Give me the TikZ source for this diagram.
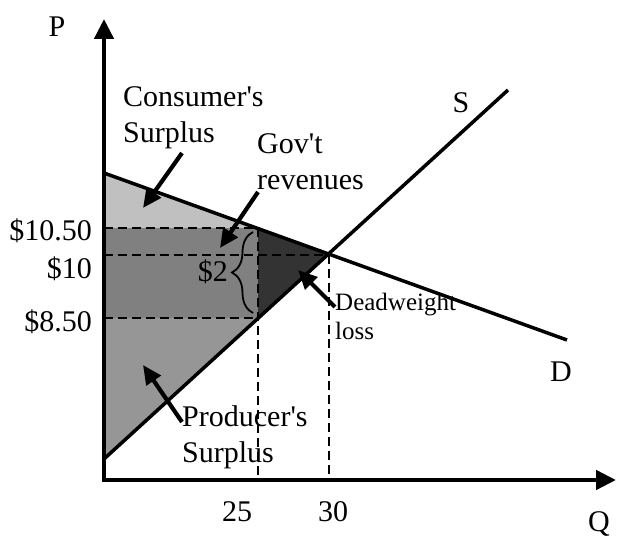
\documentclass[tikz,border=0pt]{standalone}
\usepackage{fontspec}
\setmainfont{Liberation Serif}
\usetikzlibrary{arrows.meta, decorations.pathreplacing}
\definecolor{csgray}{HTML}{C0C0C0}
\definecolor{govgray}{HTML}{808080}
\definecolor{psgray}{HTML}{969696}
\definecolor{dwlgray}{HTML}{333333}
\tikzset{
  bigtip/.tip={Triangle[length=20pt,width=19pt]},
  axis/.style={line width=4.5pt, bigtip-bigtip},
  curve/.style={line width=3.5pt},
  guide/.style={line width=2.8pt, dash pattern=on 9pt off 5pt},
  arrow/.style={line width=4.2pt, -{Triangle[length=19pt,width=17pt]}},
  lbl/.style={inner sep=0pt, font=\fontsize{30}{36}\selectfont},
  small/.style={inner sep=0pt, font=\fontsize{25}{29}\selectfont},
}

\begin{document}
\begin{tikzpicture}[x=1pt, y=1pt]
\useasboundingbox (0,0) rectangle (619,541);

% points of the graph
\coordinate (O) at (104,61);
\coordinate (ptop) at (104,522);
\coordinate (qend) at (616,61);
\coordinate (d0) at (104,368);
\coordinate (d1) at (567,201);
\coordinate (s0) at (104,82);
\coordinate (s1) at (508,451);
\coordinate (E) at (329,286);
\coordinate (dq25) at (258,313);
\coordinate (sq25) at (258,223);
\coordinate (p105) at (104,313);
\coordinate (p10) at (104,286);
\coordinate (p85) at (104,223);
\coordinate (q25) at (258,61);
\coordinate (q30) at (329,61);

% shaded areas
\fill[csgray] (d0) -- (dq25) -- (p105) -- cycle;
\fill[govgray] (p105) rectangle (sq25);
\fill[psgray] (p85) -- (sq25) -- (s0) -- cycle;
\fill[dwlgray] (dq25) -- (E) -- (sq25) -- cycle;

% guide lines
\draw[guide] (p105) -- (dq25);
\draw[guide] (p10) -- (E);
\draw[guide] (p85) -- (sq25);
\draw[guide] (dq25) -- (q25);
\draw[guide] (E) -- (q30);

% demand and supply
\draw[curve] (d0) -- (d1);
\draw[curve] (s0) -- (s1);

% axes
\draw[axis] (ptop) -- (O) -- (qend);

% brace for the tax
\coordinate (brbot) at (253,228);
\coordinate (brtop) at (253,309);
\draw[line width=1.8pt, decorate, decoration={brace, amplitude=21pt}] (brbot) -- (brtop);

% labels
\node[lbl, anchor=base] (plabel) at (57,504) {P};
\node[lbl, anchor=base] (qlabel) at (599,9) {Q};
\node[lbl, anchor=base] (slabel) at (461,428) {S};
\node[lbl, anchor=base] (dlabel) at (561,159) {D};
\node[lbl, anchor=base] (q25label) at (237,19) {25};
\node[lbl, anchor=base] (q30label) at (333,19) {30};
\node[lbl, anchor=base east] (p105label) at (92,300) {\$10.50};
\node[lbl, anchor=base east] (p10label) at (92,262) {\$10};
\node[lbl, anchor=base east] (p85label) at (92,209) {\$8.50};
\node[lbl, anchor=base east] (taxlabel) at (228,259) {\$2};

\node[lbl, align=left, anchor=base west] (cslabel) at (123,398) {Consumer\textquotesingle s\\Surplus};
\node[lbl, align=left, anchor=base west] (govlabel) at (257,351) {Gov\textquotesingle t\\revenues};
\node[lbl, align=left, anchor=base west] (pslabel) at (182,78) {Producer\textquotesingle s\\Surplus};
\node[small, align=left, anchor=base west] (dwllabel) at (335,201) {Deadweight\\loss};

% pointers
\coordinate (cstail) at (182,388);
\coordinate (cstip) at (143,333);
\coordinate (govtail) at (258,349);
\coordinate (govtip) at (220,293);
\coordinate (dwltail) at (335,234);
\coordinate (dwltip) at (298,271);
\coordinate (pstail) at (182,119);
\coordinate (pstip) at (143,176);
\draw[arrow] (cstail) -- (cstip);
\draw[arrow] (govtail) -- (govtip);
\draw[arrow] (dwltail) -- (dwltip);
\draw[arrow] (pstail) -- (pstip);

\end{tikzpicture}
\end{document}
